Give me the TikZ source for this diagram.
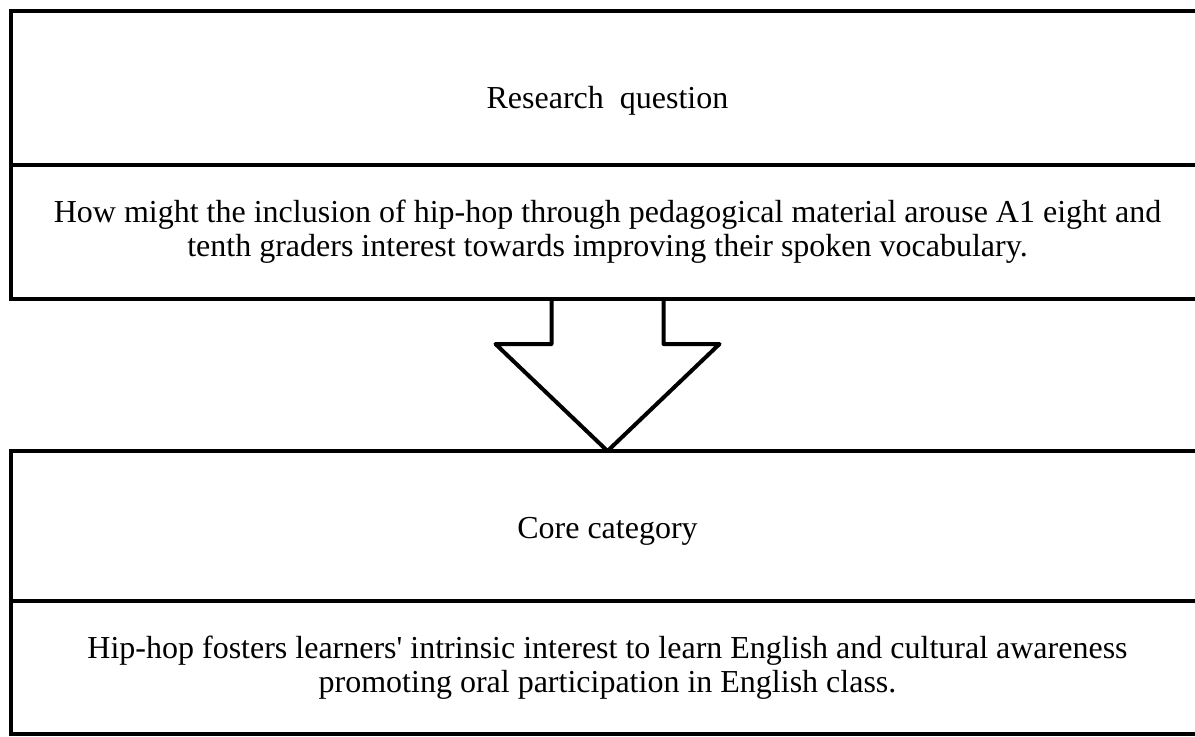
\documentclass[tikz,border=0pt]{standalone}
\usepackage{fontspec}
\setmainfont{Liberation Serif}
\usetikzlibrary{positioning,calc}

\begin{document}
\begin{tikzpicture}[x=0.5pt,y=-0.5pt]
\tikzset{box/.style={draw, line width=2pt, outer sep=0pt, inner sep=0pt, minimum width=596.5pt, align=center, font=\fontsize{16}{17}\selectfont}}
\useasboundingbox (0,0) rectangle (1195,736);
\node[box, minimum height=77pt, text height=24pt, anchor=north west] (rqhead) at (11,11) {Research~ question};
\node[box, minimum height=67pt, below=0pt of rqhead] (rqbody) {How might the inclusion of hip-hop through pedagogical material arouse A1 eight and\\tenth graders interest towards improving their spoken vocabulary.};
\node[box, minimum height=75pt, text height=15.5pt, anchor=north west] (corehead) at (11,451) {Core category};
\node[box, minimum height=66.5pt, below=0pt of corehead] (corebody) {Hip-hop fosters learners\textquotesingle{} intrinsic interest to learn English and cultural awareness\\promoting oral participation in English class.};
% arrow
\draw[line width=2pt, line join=round] ($(rqbody.south)+(-56,0)$) -- ++(0,45) -- ++(-56,0) -- (corehead.north) -- ($(rqbody.south)+(112,45)$) -- ++(-56,0) -- ++(0,-45);
\end{tikzpicture}
\end{document}
